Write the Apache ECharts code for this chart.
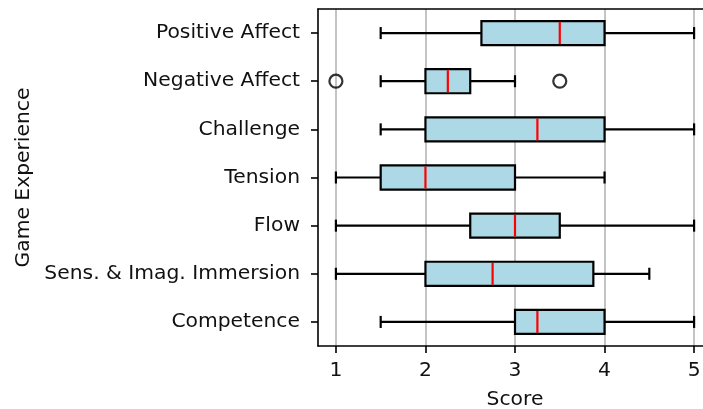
<!DOCTYPE html>
<html>
<head>
<meta charset="utf-8">
<script src="https://cdn.jsdelivr.net/npm/echarts@6/dist/echarts.min.js"></script>
<style>
  html, body { margin: 0; padding: 0; background: #fff; overflow: hidden; }
  #chart { width: 703px; height: 409px; }
</style>
</head>
<body>
<div id="chart"></div>
<script>
// Game Experience Questionnaire components, top to bottom
const categories = ['Positive Affect', 'Negative Affect', 'Challenge', 'Tension', 'Flow', 'Sens. & Imag. Immersion', 'Competence'];
// Five-number summaries per component
const lowWhisker  = [1.5, 1.5, 1.5, 1.0, 1.0, 1.0, 1.5];
const q1          = [2.625, 2.0, 2.0, 1.5, 2.5, 2.0, 3.0];
const median      = [3.5, 2.25, 3.25, 2.0, 3.0, 2.75, 3.25];
const q3          = [4.0, 2.5, 4.0, 3.0, 3.5, 3.875, 4.0];
const highWhisker = [5.0, 3.0, 5.0, 4.0, 5.0, 4.5, 5.0];
// Points beyond the whiskers: [score, component]
const outliers = [[1.0, 'Negative Affect'], [3.5, 'Negative Affect']];
const tickValues = [1, 2, 3, 4, 5];

const FONT = 'DejaVu Sans';
const TEXT = '#111';
const FS = 20.3;
const boxData = categories.map((c, i) => [c, lowWhisker[i], q1[i], median[i], q3[i], highWhisker[i]]);

// Horizontal box: whiskers with half-width caps, light-blue box, red median
function renderBox(params, api) {
  const idx = api.value(0);
  const yc = api.coord([1, idx])[1];
  const band = Math.abs(api.size([0, 1])[1]);
  const half = band * 0.25;
  const capHalf = half / 2;
  const px = v => api.coord([v, idx])[0];
  const xLo = px(api.value(1)), xQ1 = px(api.value(2)), xMed = px(api.value(3)),
        xQ3 = px(api.value(4)), xHi = px(api.value(5));
  const ink = { stroke: '#000', lineWidth: 2.2 };
  return {
    type: 'group',
    children: [
      { type: 'line', shape: { x1: xLo, y1: yc, x2: xQ1, y2: yc }, style: ink },
      { type: 'line', shape: { x1: xQ3, y1: yc, x2: xHi, y2: yc }, style: ink },
      { type: 'line', shape: { x1: xLo, y1: yc - capHalf, x2: xLo, y2: yc + capHalf }, style: ink },
      { type: 'line', shape: { x1: xHi, y1: yc - capHalf, x2: xHi, y2: yc + capHalf }, style: ink },
      { type: 'rect', shape: { x: xQ1, y: yc - half, width: xQ3 - xQ1, height: 2 * half },
        style: { fill: '#add8e6', stroke: '#000', lineWidth: 2.2 } },
      { type: 'line', shape: { x1: xMed, y1: yc - half + 1, x2: xMed, y2: yc + half - 1 },
        style: { stroke: '#ff0000', lineWidth: 2.2 } }
    ]
  };
}

const chart = echarts.init(document.getElementById('chart'), null, { renderer: 'canvas' });
chart.setOption({
  animation: false,
  backgroundColor: '#fff',
  grid: {
    left: 318, top: 9, width: 394, height: 337,
    outerBoundsMode: 'none', containLabel: false
  },
  xAxis: [
    {
      type: 'value', min: 0.8, max: 5.2,
      name: 'Score', nameLocation: 'middle', nameGap: 44,
      nameTextStyle: { fontFamily: FONT, fontSize: FS, color: TEXT },
      axisLine: { show: true, lineStyle: { color: '#000', width: 1.6 } },
      axisTick: { show: true, length: 7, customValues: tickValues, lineStyle: { color: '#000', width: 1.6 } },
      axisLabel: { customValues: tickValues, margin: 15, fontFamily: FONT, fontSize: FS, color: TEXT },
      splitLine: { show: true, lineStyle: { color: '#b0b0b0', width: 1.5 } }
    },
    {
      // top frame line
      type: 'value', position: 'top', min: 0.8, max: 5.2,
      axisLine: { show: true, lineStyle: { color: '#000', width: 1.6 } },
      axisTick: { show: false }, axisLabel: { show: false }, splitLine: { show: false }
    }
  ],
  yAxis: {
    type: 'category', data: categories, inverse: true,
    name: 'Game Experience', nameLocation: 'middle', nameGap: 284,
    nameTextStyle: { fontFamily: FONT, fontSize: FS, color: TEXT },
    axisLine: { show: true, lineStyle: { color: '#000', width: 1.6 } },
    axisTick: { show: true, alignWithLabel: true, length: 7, lineStyle: { color: '#000', width: 1.6 } },
    axisLabel: { margin: 18, fontFamily: FONT, fontSize: FS, color: TEXT },
    splitLine: { show: false }
  },
  series: [
    {
      type: 'custom',
      renderItem: renderBox,
      encode: { y: 0, x: [1, 2, 3, 4, 5] },
      data: boxData,
      z: 3
    },
    {
      type: 'scatter',
      data: outliers,
      symbol: 'circle',
      symbolSize: 13,
      itemStyle: { color: 'rgba(0,0,0,0)', borderColor: '#000', borderWidth: 2.2 },
      z: 4
    }
  ]
});
</script>
</body>
</html>
